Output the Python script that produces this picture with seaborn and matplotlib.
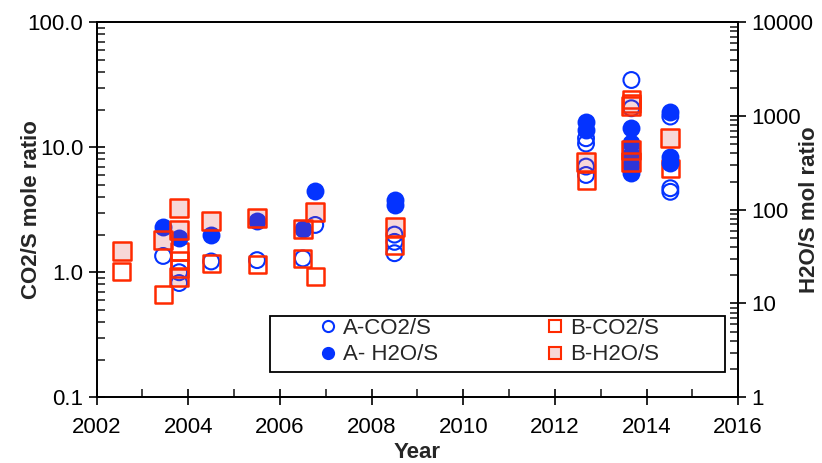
import matplotlib
matplotlib.use("Agg")
import pandas as pd
import matplotlib.pyplot as plt
import seaborn as sns
from matplotlib.lines import Line2D
from matplotlib.patches import Rectangle
from matplotlib.ticker import FixedLocator, FixedFormatter, MultipleLocator, NullFormatter

# values
a_co2_year = [2003.45, 2003.8, 2003.8, 2004.5, 2005.5, 2006.5, 2006.77,
              2008.5, 2008.5, 2008.5,
              2012.68, 2012.68, 2012.68, 2012.68,
              2013.67, 2013.67, 2013.67, 2013.67,
              2014.52, 2014.52, 2014.52]
a_co2_val = [1.35, 1.0, 0.82, 1.22, 1.25, 1.29, 2.39,
             2.0, 1.75, 1.42,
             11.8, 10.7, 7.0, 6.0,
             34.5, 20.5, 9.5, 7.2,
             17.6, 4.7, 4.4]

b_co2_year = [2002.55, 2003.45, 2003.8, 2003.8, 2003.8, 2004.5, 2005.5,
              2006.5, 2006.77, 2008.5, 2012.68, 2013.67, 2013.67, 2014.52]
b_co2_val = [1.01, 0.66, 1.46, 1.25, 1.07, 1.18, 1.16,
             1.29, 0.92, 1.65, 5.46, 23.9, 22.3, 6.8]

a_h2o_year = [2003.45, 2003.8, 2004.5, 2005.5, 2006.5, 2006.77, 2008.5, 2008.5,
              2012.68, 2012.68,
              2013.67, 2013.67, 2013.67, 2013.67, 2013.67,
              2014.52, 2014.52, 2014.52]
a_h2o_val = [66, 50, 54, 75, 62, 160, 127, 113,
             870, 710,
             740, 512, 384, 300, 245,
             1110, 368, 313]

b_h2o_year = [2002.55, 2003.45, 2003.8, 2003.8, 2003.8, 2004.5, 2005.5,
              2006.5, 2006.77, 2008.5, 2012.68,
              2013.67, 2013.67, 2013.67, 2014.52]
b_h2o_val = [36, 47.6, 104, 61, 19, 75, 81,
             62, 95, 65, 326,
             1280, 434, 326, 579]

blue = "#0433FF"
red = "#FF2A00"
pink = (0.85, 0.25, 0.25, 0.2)

sns.set_style("ticks")
plt.rcParams["font.family"] = ["Liberation Sans", "DejaVu Sans"]

fig, ax = plt.subplots(figsize=(8.22, 4.63), dpi=100)
fig.subplots_adjust(left=0.1176, right=0.898, bottom=0.142, top=0.952)
ax2 = ax.twinx()

# left axis: CO2/S
sns.scatterplot(x=a_co2_year, y=a_co2_val, ax=ax, marker="o", s=130,
                facecolor="none", edgecolor=blue, linewidth=1.5, zorder=3)
sns.scatterplot(x=b_co2_year, y=b_co2_val, ax=ax, marker="s", s=150,
                facecolor="none", edgecolor=red, linewidth=1.8, zorder=4)
# right axis: H2O/S
sns.scatterplot(x=a_h2o_year, y=a_h2o_val, ax=ax2, marker="o", s=130,
                color=blue, edgecolor=blue, linewidth=1.5, zorder=3)
sns.scatterplot(x=b_h2o_year, y=b_h2o_val, ax=ax2, marker="s", s=150,
                facecolor=pink, edgecolor=red, linewidth=1.8, zorder=4)

ax.set_xlim(2002, 2016)
ax.set_yscale("log")
ax.set_ylim(0.1, 100)
ax2.set_yscale("log")
ax2.set_ylim(1, 10000)

ax.xaxis.set_major_locator(MultipleLocator(2))
ax.xaxis.set_minor_locator(MultipleLocator(1))
ax.yaxis.set_major_locator(FixedLocator([0.1, 1, 10, 100]))
ax.yaxis.set_major_formatter(FixedFormatter(["0.1", "1.0", "10.0", "100.0"]))
ax.yaxis.set_minor_formatter(NullFormatter())
ax2.yaxis.set_major_locator(FixedLocator([1, 10, 100, 1000, 10000]))
ax2.yaxis.set_major_formatter(FixedFormatter(["1", "10", "100", "1000", "10000"]))
ax2.yaxis.set_minor_formatter(NullFormatter())

for a in (ax, ax2):
    a.tick_params(which="major", direction="inout", length=12, width=1.2,
                  labelsize=16, colors="black")
    a.tick_params(which="minor", direction="in", length=6, width=1.2)
    for sp in a.spines.values():
        sp.set_linewidth(1.3)
        sp.set_color("black")
ax.tick_params(right=False, top=False, which="both")
ax2.tick_params(left=False, top=False, which="both")
ax.tick_params(axis="x", which="major", pad=8)

ax.set_xlabel("Year", fontsize=16, fontweight="bold")
ax.xaxis.set_label_coords(0.5, -0.12)
ax.set_ylabel("CO2/S mole ratio", fontsize=16, fontweight="bold")
ax.yaxis.set_label_coords(-0.085, 0.5)
ax2.set_ylabel("H2O/S mol ratio", fontsize=16, fontweight="bold")
ax2.yaxis.set_label_coords(1.095, 0.5)

# legend
handles = [
    Line2D([], [], marker="o", ls="none", mfc="none", mec=blue, ms=8, mew=1.5, label="A-CO2/S"),
    Line2D([], [], marker="o", ls="none", mfc=blue, mec=blue, ms=8, mew=1.5, label="A- H2O/S"),
    Line2D([], [], marker="s", ls="none", mfc="none", mec=red, ms=8, mew=1.5, label="B-CO2/S"),
    Line2D([], [], marker="s", ls="none", mfc=pink, mec=red, ms=8, mew=1.5, label="B-H2O/S"),
]
ax2.legend(handles=handles, ncol=2, loc="upper left", bbox_to_anchor=(0.3466, 0.212),
           frameon=False, fontsize=16, handlelength=0.8, handletextpad=0.3,
           columnspacing=4.84, labelspacing=0.25, borderpad=0, borderaxespad=0)
ax2.add_patch(Rectangle((0.2702, 0.0675), 0.7095, 0.149, transform=ax2.transAxes,
                        fill=False, edgecolor="black", linewidth=1.3, zorder=6))

plt.savefig("out.png", dpi=100)
